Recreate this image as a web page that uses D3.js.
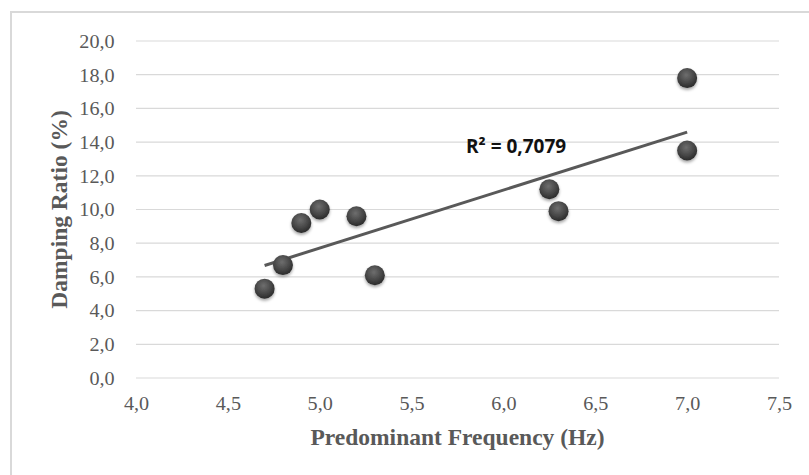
<!DOCTYPE html>
<html>
<head>
<meta charset="utf-8">
<script src="https://cdn.jsdelivr.net/npm/d3@7"></script>
<style>
  body { margin: 0; background: #fff; }
  svg { display: block; }
</style>
</head>
<body>
<div id="chart"></div>
<script>
const frequency = [4.7, 4.8, 4.9, 5.0, 5.2, 5.3, 6.25, 6.3, 7.0, 7.0];
const damping = [5.3, 6.7, 9.2, 10.0, 9.6, 6.1, 11.2, 9.9, 17.8, 13.5];
const xTicks = [4.0, 4.5, 5.0, 5.5, 6.0, 6.5, 7.0, 7.5];
const yTicks = [0, 2, 4, 6, 8, 10, 12, 14, 16, 18, 20];
const rSquaredLabel = 'R² = 0,7079';

const width = 809;
const height = 475;
const margin = { top: 41, right: 30, bottom: 97, left: 136 };
const serif = '"Liberation Serif", "Times New Roman", serif';

const svg = d3.select('#chart')
  .append('svg')
  .attr('width', width)
  .attr('height', height);

// frame of the chart area (right and bottom run off the picture)
svg.append('path')
  .attr('d', `M11,${height + 2} V12 H${width + 2}`)
  .attr('fill', 'none')
  .attr('stroke', '#d9d9d9')
  .attr('stroke-width', 2);

const x = d3.scaleLinear().domain([4, 7.5]).range([margin.left, width - margin.right]);
const y = d3.scaleLinear().domain([0, 20]).range([height - margin.bottom, margin.top]);

const fmt = (d) => d3.format('.1f')(d).replace('.', ',');

// grid lines
svg.append('g')
  .selectAll('line')
  .data(yTicks)
  .join('line')
  .attr('x1', x(4))
  .attr('x2', x(7.5))
  .attr('y1', (d) => y(d))
  .attr('y2', (d) => y(d))
  .attr('stroke', '#d9d9d9')
  .attr('stroke-width', 1.2);

const yAxis = svg.append('g')
  .attr('transform', `translate(${x(4) - 18},0)`)
  .call(d3.axisLeft(y).tickValues(yTicks).tickFormat(fmt).tickSize(0));
yAxis.select('.domain').remove();

const xAxis = svg.append('g')
  .attr('transform', `translate(0,${y(0) + 16})`)
  .call(d3.axisBottom(x).tickValues(xTicks).tickFormat(fmt).tickSize(0));
xAxis.select('.domain').remove();

svg.selectAll('.tick text')
  .attr('font-family', serif)
  .attr('font-size', 18)
  .attr('fill', '#595959')
  .attr('transform', 'scale(1.12,1)');
yAxis.selectAll('.tick text').attr('dy', '0.35em');

// axis titles
svg.append('text')
  .attr('x', (x(4) + x(7.5)) / 2)
  .attr('y', 445)
  .attr('text-anchor', 'middle')
  .attr('font-family', serif)
  .attr('font-weight', 'bold')
  .attr('font-size', 23.5)
  .attr('fill', '#595959')
  .text('Predominant Frequency (Hz)');

svg.append('text')
  .attr('transform', `translate(67,${(y(0) + y(20)) / 2}) rotate(-90)`)
  .attr('text-anchor', 'middle')
  .attr('font-family', serif)
  .attr('font-weight', 'bold')
  .attr('font-size', 23.5)
  .attr('fill', '#595959')
  .text('Damping Ratio (%)');

// linear trend line (least squares)
const mx = d3.mean(frequency);
const my = d3.mean(damping);
const sxy = d3.sum(frequency, (f, i) => (f - mx) * (damping[i] - my));
const sxx = d3.sum(frequency, (f) => (f - mx) ** 2);
const slope = sxy / sxx;
const intercept = my - slope * mx;
const [fMin, fMax] = d3.extent(frequency);

svg.append('line')
  .attr('x1', x(fMin))
  .attr('y1', y(intercept + slope * fMin))
  .attr('x2', x(fMax))
  .attr('y2', y(intercept + slope * fMax))
  .attr('stroke', '#595959')
  .attr('stroke-width', 3);

svg.append('text')
  .attr('x', 466)
  .attr('y', 153)
  .attr('font-family', '"Liberation Sans Narrow", "Open Sans", sans-serif')
  .attr('font-weight', 'bold')
  .attr('font-size', 19)
  .attr('fill', '#111')
  .text(rSquaredLabel);

// sphere-like markers
const defs = svg.append('defs');
const grad = defs.append('radialGradient')
  .attr('id', 'ball')
  .attr('cx', '45%').attr('cy', '35%').attr('r', '65%');
grad.append('stop').attr('offset', '0%').attr('stop-color', '#6e6e6e');
grad.append('stop').attr('offset', '60%').attr('stop-color', '#474747');
grad.append('stop').attr('offset', '100%').attr('stop-color', '#2a2a2a');

const shadow = defs.append('filter')
  .attr('id', 'shadow')
  .attr('x', '-50%').attr('y', '-50%')
  .attr('width', '200%').attr('height', '200%');
shadow.append('feDropShadow')
  .attr('dx', 0).attr('dy', 2)
  .attr('stdDeviation', 1.8)
  .attr('flood-color', '#000')
  .attr('flood-opacity', 0.35);

svg.append('g')
  .selectAll('circle')
  .data(frequency.map((f, i) => ({ f, d: damping[i] })))
  .join('circle')
  .attr('cx', (p) => x(p.f))
  .attr('cy', (p) => y(p.d))
  .attr('r', 10)
  .attr('fill', 'url(#ball)')
  .attr('filter', 'url(#shadow)');
</script>
</body>
</html>
